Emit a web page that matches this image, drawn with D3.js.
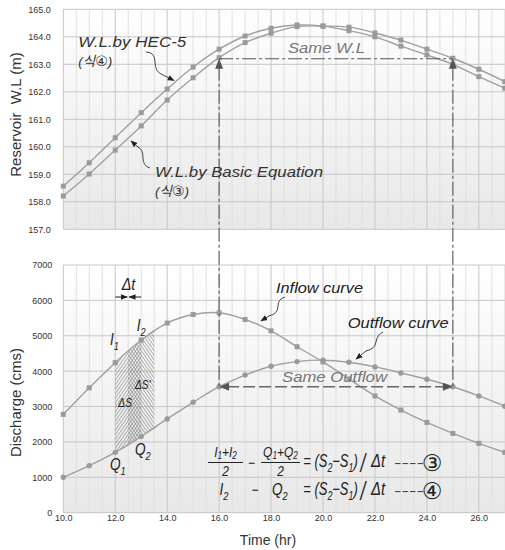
<!DOCTYPE html>
<html><head><meta charset="utf-8">
<script src="https://cdn.jsdelivr.net/npm/d3@7"></script>
<style>body{margin:0;background:#fff}svg{display:block}</style>
</head><body>
<script>
// ---------- data ----------
const hours = [10,11,12,13,14,15,16,17,18,19,20,21,22,23,24,25,26,27];
const wlHEC5  = [158.57,159.42,160.33,161.24,162.10,162.90,163.55,164.03,164.31,164.43,164.39,164.22,164.00,163.66,163.34,163.00,162.55,162.13];
const wlBasic = [158.21,159.01,159.88,160.76,161.70,162.51,163.24,163.79,164.13,164.37,164.39,164.35,164.14,163.88,163.55,163.22,162.82,162.37];
const inflow  = [2780,3530,4240,4880,5360,5600,5650,5460,5140,4690,4260,3780,3300,2900,2550,2240,1960,1705];
const outflow = [1000,1330,1705,2150,2650,3120,3560,3890,4140,4270,4310,4250,4120,3950,3770,3560,3300,3010];
const wlTicks = [157,158,159,160,161,162,163,164,165];
const qTicks = [0,1000,2000,3000,4000,5000,6000,7000];
const timeTicks = [10,12,14,16,18,20,22,24,26];
const sameTimes = [16,25];
const sameWL = 163.2;
const sameQ = 3560;
const stepTimes = [12,13];

// ---------- setup ----------
const W = 505, H = 550;
const svg = d3.select("body").append("svg").attr("width", W).attr("height", H);
const FONT = "'Liberation Sans', Arial, 'Noto Sans CJK KR', sans-serif";
const CIRC = "'DejaVu Sans', 'Noto Sans CJK KR', sans-serif";
svg.attr("font-family", FONT);

const x = d3.scaleLinear().domain([10, 27]).range([63.3, 504.8]);
const yT = d3.scaleLinear().domain([157, 165]).range([229.3, 9.3]);
const yB = d3.scaleLinear().domain([0, 7000]).range([512.7, 265]);

const defs = svg.append("defs");
const grad = defs.append("linearGradient").attr("id", "bg").attr("x1", 0).attr("y1", 0).attr("x2", 0).attr("y2", 1);
grad.append("stop").attr("offset", "0%").attr("stop-color", "#ffffff");
grad.append("stop").attr("offset", "100%").attr("stop-color", "#e8e8e8");

function hatch(id, angle) {
  const p = defs.append("pattern").attr("id", id).attr("patternUnits", "userSpaceOnUse")
    .attr("width", 2.6).attr("height", 10).attr("patternTransform", `rotate(${angle})`);
  p.append("line").attr("x1", 0.5).attr("y1", 0).attr("x2", 0.5).attr("y2", 10)
    .attr("stroke", "#777").attr("stroke-width", 0.6);
}
hatch("hatchA", 35);
hatch("hatchB", -35);

defs.append("marker").attr("id", "arr").attr("viewBox", "0 0 10 10").attr("refX", 9).attr("refY", 5)
  .attr("markerWidth", 7).attr("markerHeight", 7).attr("markerUnits", "userSpaceOnUse").attr("orient", "auto")
  .append("path").attr("d", "M0,1 L10,5 L0,9 Z").attr("fill", "#222");

// ---------- panels ----------
function panel(y, ticksY) {
  const g = svg.append("g");
  const [y0, y1] = y.range();
  g.append("rect").attr("x", x(10)).attr("y", y1).attr("width", x(27) - x(10)).attr("height", y0 - y1)
    .attr("fill", "url(#bg)");
  const vs = d3.range(20, 55).map(d => d / 2);
  g.selectAll(".vg").data(vs).join("line")
    .attr("x1", d => x(d)).attr("x2", d => x(d)).attr("y1", y1).attr("y2", y0)
    .attr("stroke", d => (d % 2 === 0) ? "#c6c6c6" : "#e0e0e0").attr("stroke-width", 1);
  g.selectAll(".hg").data(ticksY).join("line")
    .attr("x1", x(10)).attr("x2", x(27)).attr("y1", d => y(d)).attr("y2", d => y(d))
    .attr("stroke", "#c6c6c6").attr("stroke-width", 1);
  return g;
}
panel(yT, wlTicks);
panel(yB, qTicks);

// ---------- axes ----------
function styleAxis(sel, size) {
  sel.select(".domain").remove();
  sel.selectAll("line").remove();
  sel.selectAll("text").attr("font-size", size).attr("fill", "#333").attr("font-family", FONT);
}
svg.append("g").attr("transform", `translate(${x(10)},0)`)
  .call(d3.axisLeft(yT).tickValues(wlTicks).tickFormat(d3.format(".1f")).tickSize(0).tickPadding(12.5))
  .call(s => styleAxis(s, 9));
svg.append("g").attr("transform", `translate(${x(10)},0)`)
  .call(d3.axisLeft(yB).tickValues(qTicks).tickFormat(d3.format("d")).tickSize(0).tickPadding(11))
  .call(s => styleAxis(s, 9));
svg.append("g").attr("transform", `translate(0,${yB(0)})`)
  .call(d3.axisBottom(x).tickValues(timeTicks).tickFormat(d3.format(".1f")).tickSize(0).tickPadding(2))
  .call(s => styleAxis(s, 9));

svg.append("text").attr("transform", "translate(21,114.5) rotate(-90)").attr("text-anchor", "middle")
  .attr("font-size", 15).attr("fill", "#333").attr("xml:space", "preserve").text("Reservoir  W.L (m)");
svg.append("text").attr("transform", "translate(21,402.5) rotate(-90)").attr("text-anchor", "middle")
  .attr("font-size", 15).attr("fill", "#333").text("Discharge (cms)");
svg.append("text").attr("x", 268).attr("y", 545).attr("text-anchor", "middle")
  .attr("font-size", 14).attr("fill", "#333").text("Time (hr)");

// ---------- hatched storage regions ----------
const i0 = hours.indexOf(stepTimes[0]), i1 = hours.indexOf(stepTimes[1]);
const I1 = inflow[i0], I2 = inflow[i1], Q1 = outflow[i0], Q2 = outflow[i1];
const t1 = stepTimes[0], t2 = stepTimes[1], tm = (t1 + t2) / 2, te = t2 + (t2 - t1) / 2;
const regA = [[t1, I1], [t2, I2], [t2, Q2], [t1, Q1]];
const regB = [[tm, (I1 + I2) / 2], [te, I2 + (I2 - I1) / 2], [te, Q2 + (Q2 - Q1) / 2], [tm, (Q1 + Q2) / 2]];
const poly = d3.line().x(d => x(d[0])).y(d => yB(d[1]));
svg.append("path").attr("d", poly(regA) + "Z").attr("fill", "url(#hatchA)");
svg.append("path").attr("d", poly(regB) + "Z").attr("fill", "url(#hatchB)");

// ---------- curves ----------
const LC = "#a0a0a0";
function series(vals, y, shape) {
  const pts = hours.map((h, i) => [h, vals[i]]);
  svg.append("path").attr("d", d3.line().x(d => x(d[0])).y(d => y(d[1])).curve(d3.curveCatmullRom)(pts))
    .attr("fill", "none").attr("stroke", LC).attr("stroke-width", 1.4);
  if (shape === "square") {
    svg.append("g").selectAll("rect").data(pts).join("rect")
      .attr("x", d => x(d[0]) - 2.5).attr("y", d => y(d[1]) - 2.5).attr("width", 5).attr("height", 5)
      .attr("fill", "#9a9a9a");
  } else {
    svg.append("g").selectAll("circle").data(pts).join("circle")
      .attr("cx", d => x(d[0])).attr("cy", d => y(d[1])).attr("r", 2.7).attr("fill", "#9a9a9a");
  }
}
series(wlHEC5, yT, "square");
series(wlBasic, yT, "square");
series(inflow, yB, "square");
series(outflow, yB, "circle");

// ---------- "same" dashed guides ----------
const DC = "#555";
const dash = "14,3,3,3";
const [sa, sb] = sameTimes;
svg.append("line").attr("x1", x(sa)).attr("x2", x(sb)).attr("y1", yT(sameWL)).attr("y2", yT(sameWL))
  .attr("stroke", DC).attr("stroke-width", 1.1).attr("stroke-dasharray", dash);
sameTimes.forEach(t => {
  svg.append("line").attr("x1", x(t)).attr("x2", x(t)).attr("y1", yT(sameWL) + 8).attr("y2", yB(sameQ))
    .attr("stroke", DC).attr("stroke-width", 1.1).attr("stroke-dasharray", dash);
});
svg.append("line").attr("x1", x(sa) + 8).attr("x2", x(sb) - 8).attr("y1", yB(sameQ)).attr("y2", yB(sameQ))
  .attr("stroke", "#666").attr("stroke-width", 1.5).attr("stroke-dasharray", "12,4");
function tri(tx, ty, dir) {
  const L = 10, w = 4;
  let p;
  if (dir === "up") p = [[tx, ty], [tx - w, ty + L], [tx + w, ty + L]];
  if (dir === "left") p = [[tx, ty], [tx + L, ty - w], [tx + L, ty + w]];
  if (dir === "right") p = [[tx, ty], [tx - L, ty - w], [tx - L, ty + w]];
  svg.append("path").attr("d", "M" + p.map(q => q.join(",")).join("L") + "Z").attr("fill", "#555");
}
sameTimes.forEach(t => tri(x(t), yT(sameWL), "up"));
tri(x(sa), yB(sameQ), "left");
tri(x(sb), yB(sameQ), "right");

// ---------- text helpers ----------
function label(tx, ty, s, size, fill, len) {
  const t = svg.append("text").attr("x", tx).attr("y", ty).attr("font-size", size).attr("fill", fill)
    .attr("font-style", "italic").text(s);
  if (len) t.attr("textLength", len).attr("lengthAdjust", "spacingAndGlyphs");
  return t;
}
function eqNo(tx, ty, c) {
  const t = svg.append("text").attr("x", tx).attr("y", ty).attr("font-size", 13.5).attr("fill", "#333")
    .attr("font-style", "italic");
  t.append("tspan").text("(식");
  t.append("tspan").attr("font-family", CIRC).attr("font-size", 14).attr("font-style", "normal").text(c);
  t.append("tspan").text(")");
}
function rich(tx, ty, parts, size, anchor, sx, shift) {
  const sh = shift == null ? 0.3 : shift;
  const t = svg.append("text").attr("transform", `translate(${tx},${ty}) scale(${sx || 0.8},1)`)
    .attr("font-size", size).attr("font-style", "italic").attr("fill", "#222")
    .attr("text-anchor", anchor || "start");
  let down = false;
  parts.forEach(([s, sub]) => {
    const sp = t.append("tspan").text(s);
    if (sub && !down) { sp.attr("dy", size * sh).attr("font-size", size * 0.68); down = true; }
    else if (sub) { sp.attr("font-size", size * 0.68); }
    else if (down) { sp.attr("dy", -size * sh); down = false; }
  });
  return t;
}

// top chart labels
label(78.3, 46.5, "W.L.by HEC-5", 14.5, "#333", 108);
eqNo(78.3, 66, "④");
label(155, 176.5, "W.L.by Basic Equation", 14.5, "#333", 168);
eqNo(155, 196, "③");
label(288, 53, "Same W.L", 15, "#777", 77);
label(282, 381.7, "Same Outflow", 15, "#777", 105);
label(276, 292.7, "Inflow curve", 14, "#222", 87);
label(347.7, 328, "Outflow curve", 14, "#222", 101);

// leaders
const leaders = [
  "M146,52 Q155,52 155,62 Q155,72 163,75 L174,80.5",
  "M150,168 Q143,166 143,158 Q143,149 138,147 L131,141",
  "M285,297 Q278,299 278,306 Q278,314 269,316 L261,321",
  "M383,332 Q377,335 376,342 Q375,349 366,351 L356,359"
];
leaders.forEach(d => svg.append("path").attr("d", d).attr("fill", "none").attr("stroke", "#333")
  .attr("stroke-width", 0.9).attr("marker-end", "url(#arr)"));

// delta t
rich(128.5, 290, [["Δt"]], 16, "middle", 0.9);
svg.append("line").attr("x1", x(t1)).attr("x2", x(tm) - 1).attr("y1", 297).attr("y2", 297)
  .attr("stroke", "#222").attr("stroke-width", 1).attr("marker-end", "url(#arr)");
svg.append("line").attr("x1", x(t2)).attr("x2", x(tm) + 1).attr("y1", 297).attr("y2", 297)
  .attr("stroke", "#222").attr("stroke-width", 1).attr("marker-end", "url(#arr)");

// I, Q, dS labels
rich(110, 345, [["I"], ["1", 1]], 16, "start", 0.85);
rich(136.7, 331, [["I"], ["2", 1]], 16, "start", 0.85);
rich(110, 470, [["Q"], ["1", 1]], 16, "start", 0.85);
rich(135, 455, [["Q"], ["2", 1]], 16, "start", 0.85);
rich(135, 389.3, [["ΔS'"]], 12, "start", 0.85);
rich(118.3, 407.3, [["ΔS"]], 12, "start", 0.85);

// ---------- equations ----------
rich(225.5, 456.5, [["I"], ["1", 1], ["+I"], ["2", 1]], 15, "middle", 0.8, 0.15);
svg.append("line").attr("x1", 208).attr("x2", 243).attr("y1", 462.5).attr("y2", 462.5).attr("stroke", "#222").attr("stroke-width", 1);
rich(225.5, 476, [["2"]], 14, "middle", 0.85);
rich(251.5, 468, [["−"]], 15, "middle", 0.8);
rich(280.5, 456.5, [["Q"], ["1", 1], ["+Q"], ["2", 1]], 15, "middle", 0.8, 0.15);
svg.append("line").attr("x1", 261).attr("x2", 300).attr("y1", 462.5).attr("y2", 462.5).attr("stroke", "#222").attr("stroke-width", 1);
rich(280.5, 476, [["2"]], 14, "middle", 0.85);

rich(224, 495, [["I"], ["2", 1]], 17, "middle", 0.8);
rich(255, 495, [["−"]], 15, "middle", 0.8);
rich(272, 495, [["Q"], ["2", 1]], 17, "start", 0.8);

[[466.7, "③", 463], [495, "④", 491]].forEach(([by, c, cy]) => {
  rich(303.3, by, [["= (S"], ["2", 1], ["−S"], ["1", 1], [")"]], 17.5, "start", 0.74);
  svg.append("text").attr("x", 363).attr("y", by + 5).attr("text-anchor", "middle").attr("font-size", 25)
    .attr("fill", "#222").attr("font-style", "italic").attr("transform", `translate(363,${by}) scale(0.7,1) translate(-363,${-by})`).text("/");
  rich(371, by, [["Δt"]], 17.5, "start", 0.85);
  svg.append("text").attr("x", 394).attr("y", cy + 4).attr("font-size", 13).attr("fill", "#444")
    .attr("textLength", 30).attr("lengthAdjust", "spacingAndGlyphs").text("----");
  svg.append("text").attr("x", 432).attr("y", cy + 7.5).attr("text-anchor", "middle")
    .attr("font-family", CIRC).attr("font-size", 23)
    .attr("fill", "#222").text(c);
});
</script>
</body></html>
